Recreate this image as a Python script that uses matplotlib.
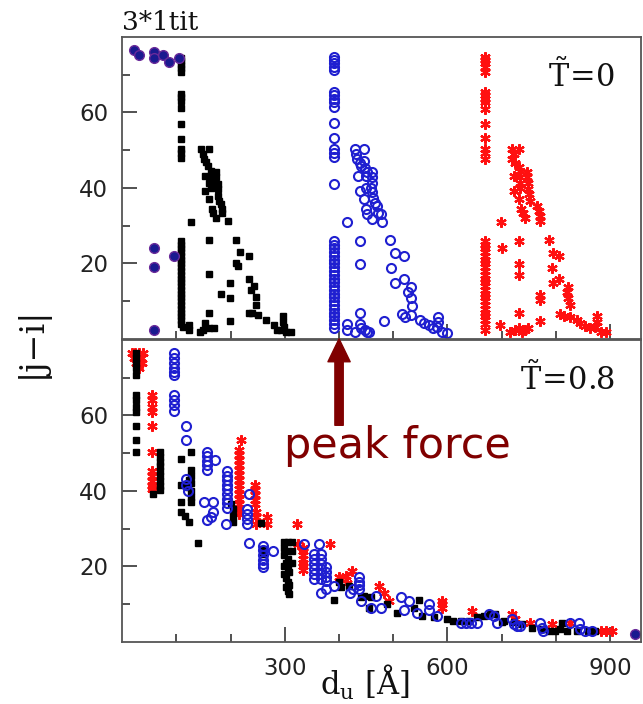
import numpy as np
import matplotlib
matplotlib.use('Agg')
import matplotlib.pyplot as plt

plt.rcParams['font.family'] = ['DejaVu Sans']
plt.rcParams['mathtext.fontset'] = 'dejavuserif'

# ---------------- top panel, T~=0 ----------------
black0_x = [108]*14 + [108]*23 + \
    [112, 124, 124, 144, 152, 161, 170, 149, 127, 195,
     145, 149, 151, 161, 155, 159, 163, 173, 152, 164, 173, 161, 170, 176, 152, 163,
     176, 161, 176, 179, 182, 165, 185, 167, 185, 173,
     161, 210, 218, 234, 210, 213, 161, 198, 234, 244, 237, 182, 198, 247, 247,
     234, 240, 250, 161, 198, 265, 280, 285, 296, 296, 299, 293, 302, 311]
black0_y = [74.4, 73.5, 72.6, 71.7, 70.7, 65, 64, 63, 61.3, 57, 53, 50.4, 49.3, 48,
            26, 25, 24, 23, 22, 21, 20, 19, 18, 17, 16, 15, 14, 13, 12, 11, 10, 9, 8, 7, 6, 5, 4] + \
    [3.3, 3.7, 2.4, 1.9, 4.2, 2.8, 2.8, 2.4, 31, 31.2,
     50.3, 49, 47.6, 50.3, 46.9, 45.9, 44.5, 44.1, 43.2, 43.2, 42.8, 41.4, 41.4, 41, 39.2, 40.1,
     39.7, 37, 37.9, 36.6, 35.7, 34.3, 34.3, 33.4, 33.4, 32.1,
     26.1, 26.1, 23, 21.9, 20.2, 19.3, 17.1, 14.8, 15.9, 14.1, 13, 11.9, 10.8, 11.2, 9,
     6.8, 6.8, 6.3, 7, 4.8, 5, 3.7, 2.5, 6, 4.6, 3.3, 2.4, 1.9, 1.9]

blue0_x = [390]*16 + [390]*24 + \
    [415, 415, 430, 439, 441, 448, 452, 455, 415, 439, 439, 439, 482,
     430, 432, 434, 446, 438, 441, 446, 448, 452, 460, 435, 449, 460, 461, 438, 449, 458,
     461, 446, 462, 466, 470, 449, 452, 472, 460, 477,
     479, 494, 504, 519, 495, 504, 520, 532, 528, 532, 535, 516, 522, 533,
     550, 556, 565, 574, 583, 583, 580, 590, 600]
blue0_y = [74.8, 73.9, 73, 72.1, 71.2, 65.4, 64.5, 63.6, 62.7, 61.4, 57.2, 53.2, 50.3, 49.2, 48.1, 41,
           26, 25, 24, 23, 22, 21, 20, 19, 18, 17, 16, 15, 14, 13, 12, 11, 10, 9, 8, 7, 6, 5, 4, 3] + \
    [4.0, 2.5, 1.9, 4.0, 2.8, 2.5, 1.9, 1.9, 31, 26, 19.8, 7, 4.8,
     50.3, 49, 47.8, 50.3, 46.7, 45.9, 47.2, 45.4, 44.1, 44.1, 43.2, 43.2, 42.8, 41.4, 39.2, 40.1, 40.1,
     38.8, 37, 37.4, 36.1, 35.2, 34.3, 33, 33.4, 31.8, 33,
     31, 26.1, 22.9, 21.9, 18.9, 14.8, 15.8, 13.9, 12.5, 10.8, 8.7, 6.7, 5.8, 6.3,
     4.9, 4.2, 3.7, 2.8, 5.9, 4.6, 3.3, 1.9, 1.7]

red0_x = [670]*15 + [670]*24 + \
    [699, 701, 731, 731, 731, 731, 771, 771, 771, 697,
     716, 725, 731, 737, 743, 749,
     719, 722, 719, 731, 725, 731, 734, 747, 723, 734, 747, 734, 749, 723, 734, 749,
     751, 731, 752, 735, 739, 743, 765, 768, 770, 771,
     788, 794, 806, 792, 794, 806, 823, 820, 823, 826, 808, 814, 826,
     838, 845, 854, 862, 875, 876, 872, 884, 893]
red0_y = [74.8, 73.9, 73, 72.1, 70.8, 65.4, 64.5, 63.6, 62.7, 61, 57, 53.2, 50.3, 49.2, 47.8,
          26, 25, 24, 23, 22, 21, 20, 19, 18, 17, 16, 15, 14, 13, 12, 11, 10, 9, 8, 7, 6, 5, 4, 2.5] + \
    [31, 24.1, 26, 19.8, 17, 7, 11.6, 10.2, 4.8, 3.7,
     1.9, 2.4, 2.8, 1.9, 2.4, 2.8,
     50.3, 49, 47.8, 50.3, 46.7, 45.6, 44.5, 44.1, 43.2, 42.8, 42.8, 41.4, 41.4, 39.2, 40.1, 39.7,
     38.3, 37, 36.6, 34.3, 33.4, 32.1, 35.2, 33.8, 32.5, 31.2,
     26.1, 22.9, 21.9, 18.9, 14.8, 16, 13.9, 12.5, 10.8, 9, 6.7, 6, 5.9,
     4.9, 4.2, 3.5, 2.8, 6, 4.6, 3.3, 1.9, 1.9]

overlap0_x = [22, 31, 59, 59, 75, 87, 105, 59, 59, 96, 59]
overlap0_y = [76.5, 75.2, 76, 74.4, 75.2, 73.3, 74.4, 24, 19, 22, 2.4]

# ---------------- bottom panel, T~=0.8 ----------------
black8_x = [26]*12 + [70]*9 + \
    [57, 109, 127, 109, 117, 121, 124, 127, 127, 127, 127, 127, 127, 109, 109, 115, 124, 139,
     201, 204, 204, 204, 256, 259, 259,
     299, 305, 299, 305, 299, 305, 302, 299, 305, 308, 299, 302, 305, 308, 302, 305, 308, 314, 314, 314,
     391, 400, 403, 418, 440, 446, 458, 455, 489, 507, 538, 547, 553, 575, 599,
     610, 625, 640, 655, 667, 679, 688, 701, 704, 722, 737, 756, 774, 787, 799, 808, 811, 820,
     839, 860, 872]
black8_y = [76.5, 75.2, 73.8, 72.5, 70.8, 65.4, 64.1, 62.3, 61, 57.2, 53.4, 50.4,
            50.4, 49.1, 47.8, 46.5, 45.2, 43.9, 42.6, 41.3, 40.2] + \
    [39.3, 48.6, 50.4, 41.5, 41.5, 41, 42.8, 45.5, 44, 42, 40, 38.5, 37.2, 37.1, 34.4, 33.5, 31.7, 26.2,
     36.6, 35.3, 33.5, 31.7, 31.4, 24.5, 23.3,
     26.5, 26.5, 25, 24, 23, 22, 21, 20, 19.5, 18.5, 18, 17, 16, 15, 14.5, 13.5, 12.7, 26.5, 24, 21,
     11.1, 15.8, 14.5, 14.9, 11.8, 12.3, 11.8, 9.1, 10, 7.8, 9.1, 11.1, 6.9, 6.5, 6.0,
     5.5, 5.5, 5.5, 6.5, 6.9, 7.3, 7.3, 5.2, 5.6, 5.2, 4.8, 3.8, 3.4, 3.0, 3.0, 3.4, 5.1, 3.0,
     3.0, 3.0, 3.0]

blue8_x = [95]*10 + [118, 118] + [156]*5 + [172, 118, 118, 121, 150, 167, 167, 164, 156] + \
    [193]*9 + [191, 233, 231, 231, 231, 231, 233] + [259]*6 + [279] + \
    [335, 363] + [354]*6 + [366]*6 + [375]*4 + \
    [366, 375, 391, 425, 421, 437, 437, 437, 437, 440, 458, 477, 468, 514, 529, 520, 544, 565, 565, 581,
     624, 634, 644, 654, 676, 685, 691, 719, 722, 728, 734, 771, 774, 777, 826, 842, 845, 854, 866]
blue8_y = [76.5, 75.2, 73.8, 72.5, 71.5, 70.8, 65.4, 64.1, 62.8, 61.3, 57.2, 53.4,
           50.4, 49.2, 48, 46.8, 45.5, 48.3, 43.3, 41.5, 40, 37.1, 37.1, 34.4, 33.1, 32.2,
           45.2, 44, 42.8, 41.6, 40.4, 39.2, 38, 36.8, 35.6, 31.3, 39.3, 35.3, 34, 32.6, 31.3, 26.2,
           25.5, 24.3, 23, 21.8, 20.6, 19.8, 24.2,
           26, 26, 23.3, 22, 20.7, 19.4, 18.1, 16.8, 23.3, 22, 20.7, 19.4, 18.1, 16.8, 19.8, 18.5, 17.2, 16.2,
           13.1, 14, 14.8, 14, 13.1, 17.1, 16, 15, 14, 10.9, 9.1, 9.1, 12.3, 11.8, 10.9, 8.6, 7.8, 10, 8.6, 6.9,
           5, 5, 5, 5, 7.3, 6.9, 5.1, 6, 4.7, 4.2, 4.2, 5.1, 3.8, 3.0, 5.1, 5.1, 3.4, 3, 3]

red8_x = [18, 24, 31, 38, 21, 28, 34, 26, 36, 31] + [55]*11 + [219] + [216]*14 + [245]*5 + \
    [247, 247, 247, 268, 268, 323, 325] + [333]*7 + \
    [383, 400, 412, 424, 415, 474, 483, 492, 590, 590, 590,
     645, 719, 725, 753, 793, 826, 884, 893, 903]
red8_y = [76.5, 76.5, 76.5, 76.5, 75.2, 75.2, 75.2, 73.8, 73.8, 72.5] + \
    [65.4, 64.1, 62.3, 61, 57.2, 50.4, 45.4, 44, 42.6, 41.3, 40.4] + [53.4] + \
    [50.8, 49.5, 48.2, 46.9, 45.6, 44.3, 43, 41.7, 40.4, 39.1, 37.8, 36.5, 35.2, 33.9] + \
    [41.5, 40.2, 38.9, 37.6, 36.6] + [34.4, 33.1, 31.3, 33.1, 31.3, 31.3, 26] + \
    [25, 24, 23, 22, 21, 20, 19] + \
    [26, 17.1, 17.5, 18.9, 15.5, 14.9, 13.1, 10.9, 10.9, 10, 9.1,
     8.3, 7.4, 6.0, 5.1, 4.7, 5.1, 3, 3, 3]

overlap8_x = [946]
overlap8_y = [2.0]

fig = plt.figure(figsize=(6.43, 7.04), dpi=100)
ax1 = fig.add_axes([0.190, 0.5185, 0.807, 0.429])
ax2 = fig.add_axes([0.190, 0.0881, 0.807, 0.429])

blue = '#1f1fd0'
red = '#ff1010'
for ax, bx, by, ux, uy, rx, ry, ox, oy in [
        (ax1, black0_x, black0_y, blue0_x, blue0_y, red0_x, red0_y, overlap0_x, overlap0_y),
        (ax2, black8_x, black8_y, blue8_x, blue8_y, red8_x, red8_y, overlap8_x, overlap8_y)]:
    ax.plot(rx, ry, ls='none', marker=(6, 2, 0), ms=7.5, mew=1.6, color=red)
    ax.plot(bx, by, ls='none', marker='s', ms=4.3, color='black')
    ax.plot(ux, uy, ls='none', marker='o', ms=6.5, mfc='none', mew=1.5, color=blue)
    ax.plot(ox, oy, ls='none', marker='o', ms=7, mfc='#1a1a90', mec='#6a2a9a', mew=1.0)
    ax.set_xlim(0, 957)
    ax.set_ylim(0, 80)
    ax.set_xticks([300, 600, 900])
    ax.set_xticks([100, 200, 400, 500, 700, 800], minor=True)
    ax.set_yticks([20, 40, 60])
    ax.set_yticks([10, 30, 50, 70], minor=True)
    ax.tick_params(which='both', direction='in', top=False, right=False,
                   color='#333333', width=1.2, labelsize=16.5, labelcolor='#222222')
    ax.tick_params(which='major', length=11)
    ax.tick_params(which='minor', length=5.5)
    ax.tick_params(axis='y', pad=10)
    ax.tick_params(axis='x', pad=11)
    for s in ax.spines.values():
        s.set_color('#555555')
        s.set_linewidth(1.3)

ax1.set_xticklabels([])

ax1.text(909, 66.7, r'$\tilde{\mathrm{T}}\!=\!\mathrm{0}$', ha='right', va='baseline',
         fontsize=22, color='#111111')
ax2.text(909, 66.8, r'$\tilde{\mathrm{T}}\!=\!\mathrm{0.8}$', ha='right', va='baseline',
         fontsize=22, color='#111111')

ax1.text(0.0, 1.023, '3*1tit', transform=ax1.transAxes, ha='left', va='baseline',
         fontsize=19, family='DejaVu Serif', color='#111111')

# peak force arrow
ax2.annotate('', xy=(400, 80.3), xytext=(400, 57.4), annotation_clip=False,
             arrowprops=dict(arrowstyle='simple,head_length=1.65,head_width=1.6,tail_width=0.6',
                             mutation_scale=10, color='#800000', shrinkA=0, shrinkB=0))
ax2.text(508, 48.7, 'peak force', ha='center', va='baseline', fontsize=31, color='#800000')

fig.text(32 / 643, 1 - 342 / 704, '|j\u2212i|', rotation=90, ha='center', va='center',
         fontsize=24, family='DejaVu Serif', color='#111111')
fig.text(365 / 643, 1 - 695 / 704, r'$\mathrm{d_u}$ [Å]', ha='center', va='baseline',
         fontsize=22, family='DejaVu Serif', color='#111111')

fig.savefig('out.png', dpi=100)
